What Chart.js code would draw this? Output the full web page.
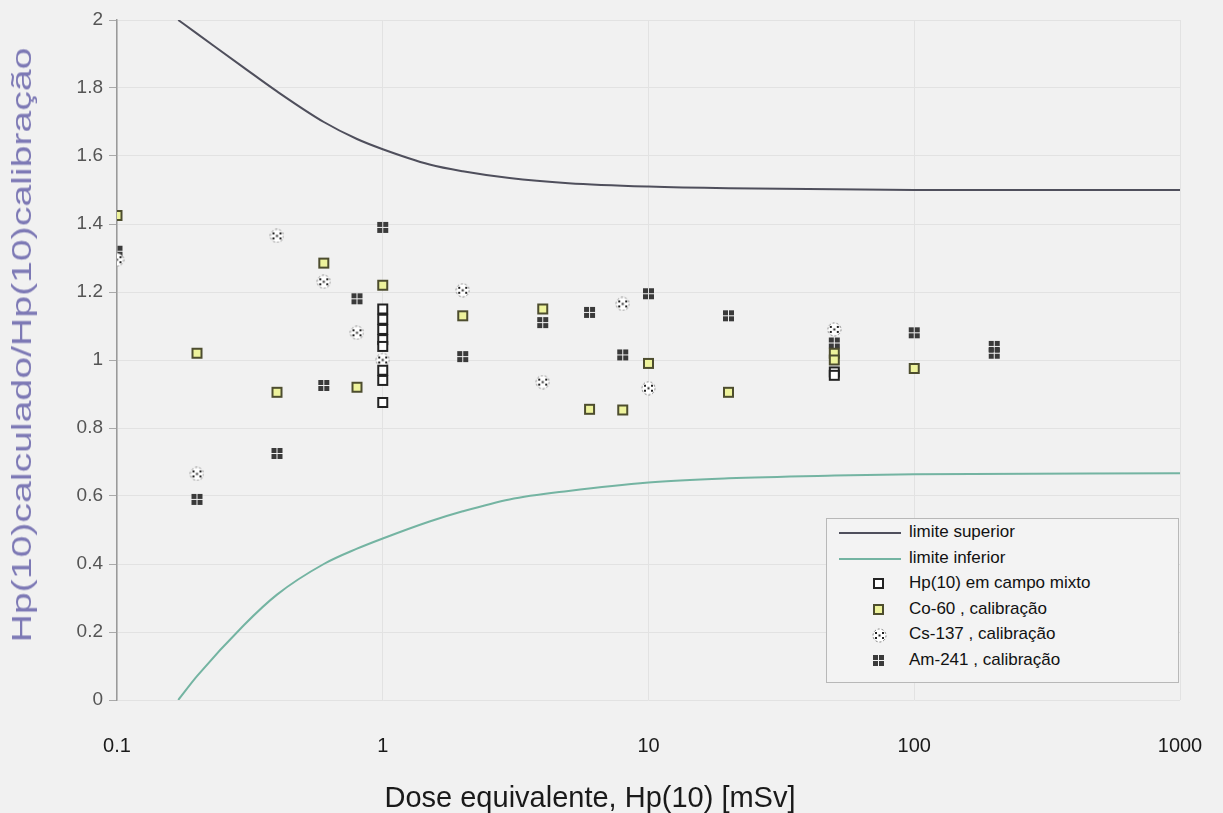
<!DOCTYPE html>
<html>
<head>
<meta charset="utf-8">
<script src="https://cdn.jsdelivr.net/npm/chart.js@4.4.0/dist/chart.umd.min.js"></script>
<style>
  html, body { margin: 0; padding: 0; background: #f1f1f1; }
  #wrap { position: relative; width: 1223px; height: 813px; font-family: "Liberation Sans", Arial, sans-serif; }
  #legend {
    position: absolute; left: 826px; top: 518px; width: 351px; height: 163px;
    border: 1px solid #b8b8b8; background: #f3f3f3;
    font-size: 17px; color: #111;
  }
  .row { position: absolute; left: 0; height: 26px; width: 100%; }
  .row span { position: absolute; left: 82px; top: 2px; white-space: nowrap; }
  .row .ln { position: absolute; left: 12px; top: 12px; width: 62px; height: 0; border-top: 2px solid; }
  .row canvas { position: absolute; left: 45px; top: 6px; }
  #ytitle {
    position: absolute; left: 22px; top: 345px; white-space: nowrap;
    font-size: 28px; color: #7d79b5;
    transform: translate(-50%, -50%) rotate(-90deg) scale(1.4, 1);
  }
  #xtitle {
    position: absolute; left: 590px; top: 797px; white-space: nowrap;
    font-size: 29px; color: #1a1a1a;
    transform: translate(-50%, -50%);
  }
</style>
</head>
<body>
<div id="wrap">
  <canvas id="scatterChart" width="1223" height="813"></canvas>
  <div id="ytitle">Hp(10)calculado/Hp(10)calibração</div>
  <div id="xtitle">Dose equivalente, Hp(10) [mSv]</div>
  <div id="legend"></div>
</div>
<script>
// axis ticks
const xTicks = [0.1, 1, 10, 100, 1000];

// limit curves
const upperX = [0.17, 0.2, 0.3, 0.4, 0.6, 0.8, 1, 1.5, 2, 3, 5, 10, 20, 100, 1000];
const upperY = [2.0, 1.96, 1.86, 1.79, 1.70, 1.65, 1.62, 1.575, 1.555, 1.535, 1.52, 1.51, 1.505, 1.50, 1.50];
const lowerX = [0.17, 0.2, 0.3, 0.4, 0.6, 0.8, 1, 1.5, 2, 3, 5, 10, 20, 50, 100, 1000];
const lowerY = [0, 0.07, 0.22, 0.31, 0.40, 0.445, 0.475, 0.525, 0.555, 0.59, 0.615, 0.64, 0.652, 0.66, 0.664, 0.667];

// measured points
const mixedX = [1, 1, 1, 1, 1, 1, 1, 1, 50, 50];
const mixedY = [1.15, 1.12, 1.09, 1.06, 1.04, 0.97, 0.94, 0.875, 0.965, 0.955];

const co60X = [0.1, 0.2, 0.4, 0.6, 0.8, 1, 2, 4, 6, 8, 10, 20, 50, 50, 100];
const co60Y = [1.425, 1.02, 0.905, 1.285, 0.92, 1.22, 1.13, 1.15, 0.855, 0.853, 0.99, 0.905, 1.02, 1.0, 0.975];

const cs137X = [0.1, 0.2, 0.4, 0.6, 0.8, 1, 2, 4, 8, 10, 50];
const cs137Y = [1.295, 0.665, 1.365, 1.23, 1.08, 1.0, 1.205, 0.935, 1.165, 0.917, 1.09];

const am241X = [0.1, 0.2, 0.4, 0.6, 0.8, 1, 2, 4, 6, 8, 10, 20, 50, 100, 200, 200];
const am241Y = [1.32, 0.59, 0.725, 0.925, 1.18, 1.39, 1.01, 1.11, 1.14, 1.015, 1.195, 1.13, 1.05, 1.08, 1.04, 1.02];

const pts = (xs, ys) => xs.map((x, i) => ({ x: x, y: ys[i] }));

// marker images
function makeSquare(fill, stroke) {
  const c = document.createElement('canvas');
  c.width = 13; c.height = 13;
  const g = c.getContext('2d');
  g.fillStyle = fill;
  g.fillRect(1, 1, 11, 11);
  g.strokeStyle = stroke;
  g.lineWidth = 2;
  g.strokeRect(2, 2, 9, 9);
  return c;
}
function makeCs() {
  const c = document.createElement('canvas');
  c.width = 15; c.height = 15;
  const g = c.getContext('2d');
  g.fillStyle = '#ffffff';
  g.beginPath(); g.arc(7.5, 7.5, 6.5, 0, Math.PI * 2); g.fill();
  g.strokeStyle = '#777';
  g.setLineDash([2, 2]);
  g.lineWidth = 1;
  g.stroke();
  g.fillStyle = '#222';
  [[3, 4], [10, 4], [3, 9], [10, 9], [6.5, 6.5]].forEach(p => g.fillRect(p[0], p[1], 2, 2));
  return c;
}
function makeAm() {
  const c = document.createElement('canvas');
  c.width = 13; c.height = 13;
  const g = c.getContext('2d');
  g.fillStyle = '#3a3a3a';
  [[1, 1], [7, 1], [1, 7], [7, 7]].forEach(p => g.fillRect(p[0], p[1], 5, 5));
  return c;
}
const mixedImg = makeSquare('#ffffff', '#222222');
const co60Img = makeSquare('#eef39c', '#4d4d2e');
const csImg = makeCs();
const amImg = makeAm();

const upperColor = '#4f4f5c';
const lowerColor = '#74b4a2';

const ctx = document.getElementById('scatterChart').getContext('2d');
new Chart(ctx, {
  type: 'scatter',
  data: {
    datasets: [
      { label: 'limite superior', data: pts(upperX, upperY), showLine: true, borderColor: upperColor,
        borderWidth: 2, pointRadius: 0, cubicInterpolationMode: 'monotone' },
      { label: 'limite inferior', data: pts(lowerX, lowerY), showLine: true, borderColor: lowerColor,
        borderWidth: 2, pointRadius: 0, cubicInterpolationMode: 'monotone' },
      { label: 'Hp(10) em campo mixto', data: pts(mixedX, mixedY), pointStyle: mixedImg },
      { label: 'Co-60 , calibração', data: pts(co60X, co60Y), pointStyle: co60Img },
      { label: 'Cs-137 , calibração', data: pts(cs137X, cs137Y), pointStyle: csImg },
      { label: 'Am-241 , calibração', data: pts(am241X, am241Y), pointStyle: amImg }
    ]
  },
  options: {
    responsive: false,
    animation: false,
    events: [],
    layout: { padding: { top: 20, right: 43, left: 0, bottom: 0 } },
    plugins: { legend: { display: false }, tooltip: { enabled: false } },
    scales: {
      x: {
        type: 'logarithmic',
        min: 0.1,
        max: 1000,
        afterBuildTicks: axis => { axis.ticks = xTicks.map(v => ({ value: v })); },
        afterFit: axis => { axis.height = 113; axis.paddingLeft = 0; axis.paddingRight = 0; },
        ticks: {
          callback: v => String(v),
          font: { family: 'Liberation Sans', size: 20 },
          color: '#1a1a1a',
          padding: 34,
          maxRotation: 0
        },
        grid: { color: '#e2e2e2', drawTicks: false },
        border: { display: false }
      },
      y: {
        min: 0,
        max: 2,
        afterFit: axis => { axis.width = 117; },
        ticks: {
          stepSize: 0.2,
          callback: v => String(Number(v.toFixed(1))),
          font: { family: 'Liberation Sans', size: 19 },
          color: '#555',
          padding: 6
        },
        grid: { color: '#e2e2e2', tickLength: 8, tickColor: '#aaa' },
        border: { color: '#9a9a9a', width: 1.5 }
      }
    }
  }
});

// legend box inside the plot
const legendItems = [
  { text: 'limite superior', line: upperColor },
  { text: 'limite inferior', line: lowerColor },
  { text: 'Hp(10) em campo mixto', img: mixedImg },
  { text: 'Co-60 , calibração', img: co60Img },
  { text: 'Cs-137 , calibração', img: csImg },
  { text: 'Am-241 , calibração', img: amImg }
];
const legend = document.getElementById('legend');
legendItems.forEach((it, i) => {
  const row = document.createElement('div');
  row.className = 'row';
  row.style.top = (1 + i * 25.6) + 'px';
  if (it.line) {
    const ln = document.createElement('div');
    ln.className = 'ln';
    ln.style.borderTopColor = it.line;
    row.appendChild(ln);
  } else {
    const c = document.createElement('canvas');
    c.width = it.img.width; c.height = it.img.height;
    c.getContext('2d').drawImage(it.img, 0, 0);
    row.appendChild(c);
  }
  const s = document.createElement('span');
  s.textContent = it.text;
  row.appendChild(s);
  legend.appendChild(row);
});
</script>
</body>
</html>
